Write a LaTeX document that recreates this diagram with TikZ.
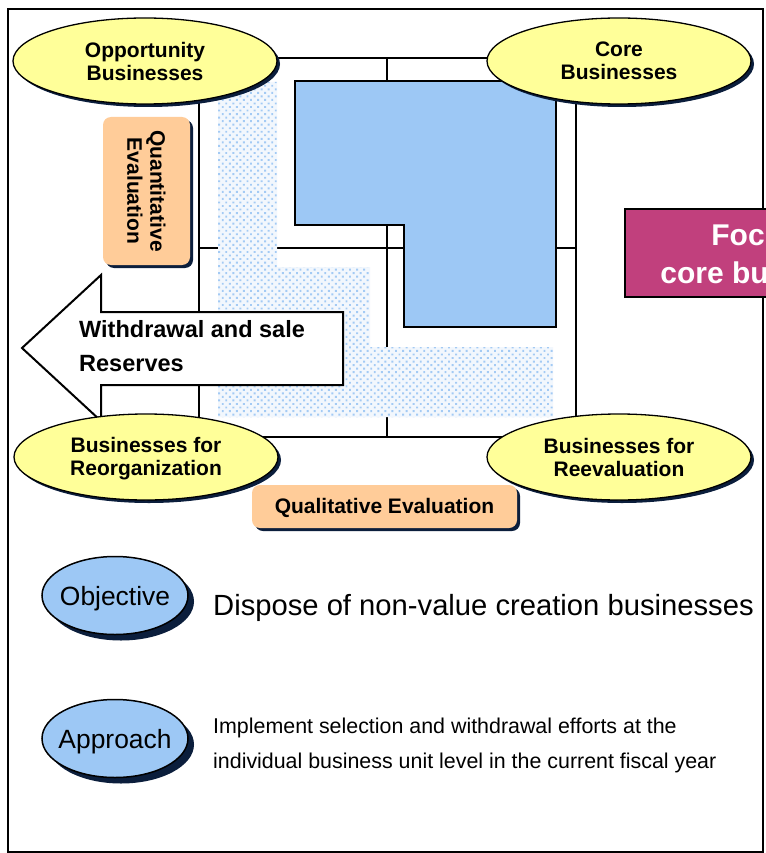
\documentclass[tikz,border=0pt]{standalone}
\usepackage{fontspec}
\setmainfont{Liberation Sans}
\usetikzlibrary{shapes.geometric,shadows,patterns.meta}

\definecolor{ovalyellow}{HTML}{FFFF99}
\definecolor{shadenavy}{HTML}{0B1E3C}
\definecolor{coreblue}{HTML}{9DC8F5}
\definecolor{dotblue}{HTML}{A3CAF4}
\definecolor{dotbg}{HTML}{F2F7FD}
\definecolor{evalorange}{HTML}{FFCC99}
\definecolor{focuspink}{HTML}{C1407D}

\begin{document}
\begin{tikzpicture}[x=1pt,y=-1pt,
  navyshadow/.style={drop shadow={shadow xshift=#1, shadow yshift=-#1, fill=shadenavy, opacity=1}},
  quadoval/.style={ellipse, draw, line width=1.3pt, fill=ovalyellow, navyshadow=3pt,
    minimum width=264pt, minimum height=86pt, inner sep=0pt, align=center,
    font=\fontsize{21}{23}\selectfont\bfseries},
  evalbox/.style={rectangle, rounded corners=8pt, fill=evalorange, navyshadow=3pt, inner sep=0pt},
  evaltext/.style={font=\fontsize{21}{23}\selectfont\bfseries, align=center, inner sep=0pt},
  keyoval/.style={ellipse, draw, line width=1.5pt, fill=coreblue, navyshadow=6pt,
    minimum width=146pt, minimum height=78pt, inner xsep=-5pt, inner ysep=0pt,
    font=\fontsize{26.4}{30}\selectfont, text height=19pt, text depth=0pt},
  gridline/.style={line width=2pt},
  plaintext/.style={inner sep=0pt, anchor=base west},
]
\useasboundingbox (0,0) rectangle (765,853);
\fill[white] (0,0) rectangle (765,853);

% outer frame
\draw[line width=1.5pt] (8,9) rectangle (763,852);

% portfolio matrix
\draw[gridline] (199,58) rectangle (576,437);
\draw[gridline] (387,58) -- (387,437);
\draw[gridline] (199,248) -- (576,248);

% dotted zone of businesses to be sorted out
\fill[dotbg] (218,82) -- (277,82) -- (277,267) -- (370,267) -- (370,347)
  -- (553,347) -- (553,417) -- (218,417) -- cycle;
\fill[pattern={Dots[distance=5pt, angle=45, radius=1.35pt]}, pattern color=dotblue]
  (218,82) -- (277,82) -- (277,267) -- (370,267) -- (370,347)
  -- (553,347) -- (553,417) -- (218,417) -- cycle;

% core zone
\draw[fill=coreblue, line width=1.2pt] (295,81) -- (556,81) -- (556,327) -- (404,327)
  -- (404,225) -- (295,225) -- cycle;

% withdrawal arrow
\draw[fill=white, line width=2pt, line join=miter] (22,348) -- (101,275) -- (101,312)
  -- (343,312) -- (343,385) -- (101,385) -- (101,421) -- cycle;
\node[plaintext, font=\fontsize{23.5}{26}\selectfont\bfseries] (withdraw) at (79,337) {Withdrawal and sale};
\node[plaintext, font=\fontsize{23.5}{26}\selectfont\bfseries] (reserves) at (79,371) {Reserves};

% quadrant labels
\node[quadoval] (opp) at (145,61) {Opportunity\\Businesses};
\node[quadoval] (core) at (619,61) {Core\\Businesses};
\node[quadoval] (reorg) at (146,457) {};
\node[font=\fontsize{21}{23}\selectfont\bfseries, align=center, inner sep=0pt]
  (reorgtext) at (146,459) {Businesses for\\Reorganization};
\node[quadoval] (reeval) at (619,457) {Businesses for\\Reevaluation};

% axis labels
\node[evalbox, minimum width=87pt, minimum height=148pt] (quantbox) at (146.5,191) {};
\node[evaltext, rotate=-90] (quanttext) at (quantbox.center) {Quantitative\\Evaluation};
\node[evalbox, minimum width=265pt, minimum height=43pt] (qualbox) at (384.5,506.5) {};
\node[evaltext] (qualtext) at (384.5,508) {Qualitative Evaluation};

% focus banner
\node[draw, line width=1.5pt, fill=focuspink, minimum width=180pt, minimum height=88pt,
  anchor=north west, inner sep=0pt] (focus) at (624,208) {};
\node[anchor=base, inner sep=0pt, text=white, font=\fontsize{30}{34}\selectfont\bfseries]
  (focus1) at (778,245) {Focus on};
\node[anchor=base, inner sep=0pt, text=white, font=\fontsize{30}{34}\selectfont\bfseries]
  (focus2) at (778,283) {core businesses};

% objective and approach
\node[keyoval] (obj) at (115,595.5) {Objective};
\node[plaintext, font=\fontsize{29.2}{33}\selectfont] (objtext) at (213,615)
  {Dispose of non-value creation businesses};

\node[keyoval] (appr) at (115,738.5) {Approach};
\node[plaintext, font=\fontsize{21.4}{25}\selectfont] (apprtext1) at (213,733)
  {Implement selection and withdrawal efforts at the};
\node[plaintext, font=\fontsize{21.4}{25}\selectfont] (apprtext2) at (213,768)
  {individual business unit level in the current fiscal year};
\end{tikzpicture}
\end{document}
